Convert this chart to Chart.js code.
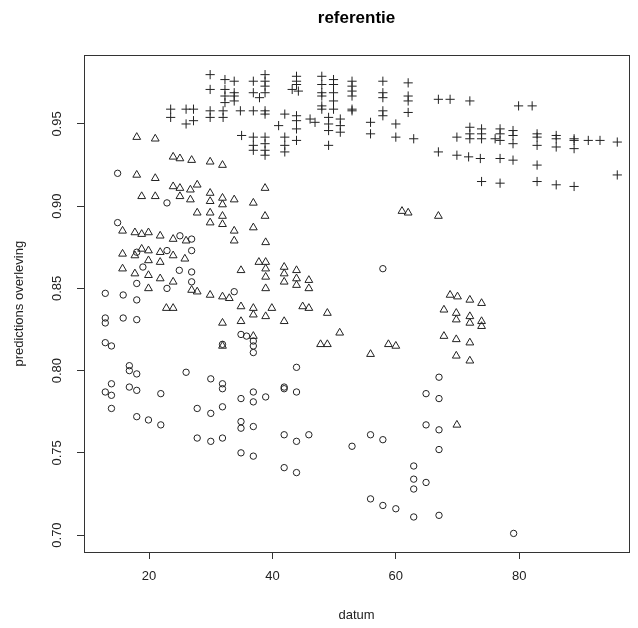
<!DOCTYPE html>
<html>
<head>
<meta charset="utf-8">
<title>referentie</title>
<script src="https://cdn.jsdelivr.net/npm/chart.js@4.4.1/dist/chart.umd.min.js"></script>
<style>
  html, body { margin: 0; padding: 0; background: #fff; }
  #wrap { width: 638px; height: 628px; }
</style>
</head>
<body>
<div id="wrap"><canvas id="chart" width="638" height="628"></canvas></div>
<script>
// values
const circleX = [14.9, 22.9, 14.9, 25.0, 26.9, 18.0, 22.9, 26.9, 19.0, 24.9, 26.9, 18.0, 26.9, 22.9, 12.9, 15.8, 18.0, 33.8,
  12.9, 12.9, 15.8, 18.0, 12.9, 13.9, 34.9, 35.8, 36.9, 36.9, 36.9, 31.9,
  16.8, 16.8, 18.0, 26.0, 30.0, 31.9, 13.9, 57.9, 43.9, 41.9, 67.0,
  12.9, 13.9, 16.8, 18.0, 21.9, 13.9, 18.0, 19.9, 21.9,
  31.9, 31.9, 27.8, 30.0, 34.9, 36.9, 36.9, 34.9, 34.9, 36.9, 27.8, 30.0, 31.9, 34.9, 36.9,
  38.9, 41.9, 43.9, 41.9, 43.9, 45.9, 41.9, 43.9, 52.9, 55.9, 57.9, 55.9, 57.9, 60.0,
  62.9, 62.9, 62.9, 62.9, 64.9, 64.9, 64.9, 67.0, 67.0, 67.0, 67.0, 79.1];
const circleY = [0.920, 0.902, 0.890, 0.882, 0.880, 0.872, 0.873, 0.873, 0.863, 0.861, 0.860, 0.853, 0.854, 0.850, 0.847, 0.846, 0.843, 0.848,
  0.832, 0.829, 0.832, 0.831, 0.817, 0.815, 0.822, 0.821, 0.818, 0.815, 0.811, 0.816,
  0.803, 0.800, 0.798, 0.799, 0.795, 0.792, 0.792, 0.862, 0.802, 0.790, 0.796,
  0.787, 0.785, 0.790, 0.788, 0.786, 0.777, 0.772, 0.770, 0.767,
  0.789, 0.778, 0.777, 0.774, 0.783, 0.787, 0.781, 0.769, 0.765, 0.766, 0.759, 0.757, 0.759, 0.750, 0.748,
  0.784, 0.789, 0.787, 0.761, 0.757, 0.761, 0.741, 0.738, 0.754, 0.761, 0.758, 0.722, 0.718, 0.716,
  0.742, 0.734, 0.728, 0.711, 0.786, 0.767, 0.732, 0.783, 0.764, 0.752, 0.712, 0.701];

const triangleX = [18.0, 21.0, 23.9, 25.0, 26.9, 29.9, 31.9,
  18.0, 21.0, 23.9, 25.0, 26.7, 27.8, 29.9, 29.9, 31.9, 31.9, 33.8, 36.9,
  18.8, 21.0, 25.0, 26.7, 27.8, 29.9, 31.9, 38.8, 38.8, 61.0, 62.0, 66.9,
  29.9, 31.9, 33.8, 33.8, 36.9,
  15.7, 17.7, 18.8, 19.9, 21.8, 23.9, 26.0,
  15.7, 17.7, 19.9, 21.8, 18.8, 19.9, 21.8, 23.9, 25.8,
  15.7, 17.7, 19.9, 21.8, 23.9, 19.9, 26.9, 27.8, 29.9, 31.9, 33.0, 34.9, 36.9, 22.8, 23.9,
  34.9, 37.8, 31.9, 34.9, 36.9, 36.9, 31.9,
  38.9, 38.9, 38.9, 38.9, 38.9, 41.9, 41.9, 41.9, 43.9, 43.9, 43.9, 45.9, 45.9,
  38.9, 39.9, 41.9, 44.9, 45.9, 48.9, 50.9, 47.8, 48.9, 55.9, 58.8, 60.0,
  68.8, 70.0, 72.0, 73.9, 67.8, 69.8, 69.8, 72.0, 72.0, 73.9, 73.9, 67.8, 69.8, 72.0, 69.8, 72.0, 69.9];
const triangleY = [0.942, 0.941, 0.930, 0.929, 0.928, 0.927, 0.925,
  0.919, 0.917, 0.912, 0.911, 0.910, 0.913, 0.908, 0.903, 0.905, 0.901, 0.904, 0.902,
  0.906, 0.906, 0.906, 0.904, 0.896, 0.896, 0.894, 0.911, 0.894, 0.897, 0.896, 0.894,
  0.890, 0.889, 0.885, 0.879, 0.887,
  0.885, 0.884, 0.883, 0.884, 0.882, 0.880, 0.879,
  0.871, 0.870, 0.873, 0.872, 0.874, 0.867, 0.866, 0.870, 0.868,
  0.862, 0.859, 0.858, 0.856, 0.854, 0.850, 0.849, 0.848, 0.846, 0.845, 0.844, 0.839, 0.838, 0.838, 0.838,
  0.861, 0.866, 0.829, 0.830, 0.834, 0.821, 0.815,
  0.878, 0.866, 0.862, 0.857, 0.850, 0.863, 0.859, 0.854, 0.861, 0.856, 0.852, 0.855, 0.850,
  0.833, 0.838, 0.830, 0.839, 0.838, 0.835, 0.823, 0.816, 0.816, 0.810, 0.816, 0.815,
  0.846, 0.845, 0.843, 0.841, 0.837, 0.835, 0.831, 0.833, 0.829, 0.830, 0.827, 0.821, 0.819, 0.817, 0.809, 0.806, 0.767];

const crossX = [29.9, 29.9, 32.3, 32.3, 32.3, 32.3, 33.8, 33.8, 33.8, 33.8,
  23.5, 23.5, 26.0, 26.0, 27.2, 27.2, 29.9, 29.9, 32.0, 32.0, 34.8, 35.0,
  36.9, 36.9, 36.9, 36.9, 36.9, 36.9,
  38.8, 38.8, 38.8, 38.8, 38.8, 38.8, 37.9, 38.8, 38.8, 38.8, 38.8,
  43.9, 43.9, 43.9, 43.2, 44.2, 42.0, 41.0, 43.9, 43.9, 43.9, 42.0, 42.0, 42.0, 43.9,
  46.1, 46.9, 48.0, 48.0, 48.0, 48.0, 48.0, 48.0, 49.9, 49.9, 49.9, 49.9, 49.9,
  49.1, 49.1, 49.1, 49.1, 51.0, 51.0, 51.0, 52.9, 52.9, 52.9, 52.9, 52.9, 52.9,
  55.9, 55.9, 57.9, 57.9, 57.9, 57.9, 57.9, 60.0, 60.0, 62.0, 62.0, 62.0, 62.0, 62.9,
  66.9, 68.8, 72.0, 79.9, 82.1, 69.9, 72.0, 72.0, 72.0, 73.9, 73.9, 73.9,
  76.9, 76.9, 76.9, 76.1, 79.0, 79.0, 79.0, 82.9, 82.9, 82.9, 86.0, 86.0, 86.0, 88.9, 88.9, 88.9,
  91.2, 93.1, 66.9, 69.9, 71.8, 73.7, 76.9, 79.0, 82.9,
  73.9, 76.9, 82.9, 86.0, 88.9, 95.9, 95.9];
const crossY = [0.980, 0.971, 0.977, 0.971, 0.967, 0.963, 0.976, 0.969, 0.967, 0.964,
  0.959, 0.954, 0.950, 0.959, 0.959, 0.952, 0.958, 0.954, 0.958, 0.954, 0.958, 0.943,
  0.976, 0.969, 0.958, 0.942, 0.937, 0.934,
  0.980, 0.976, 0.973, 0.969, 0.958, 0.956, 0.966, 0.942, 0.938, 0.934, 0.931,
  0.979, 0.976, 0.974, 0.971, 0.970, 0.956, 0.949, 0.955, 0.952, 0.947, 0.942, 0.937, 0.933, 0.940,
  0.953, 0.951, 0.979, 0.974, 0.969, 0.967, 0.961, 0.959, 0.977, 0.974, 0.969, 0.964, 0.959,
  0.954, 0.950, 0.946, 0.937, 0.953, 0.949, 0.945, 0.976, 0.973, 0.970, 0.967, 0.959, 0.958,
  0.951, 0.944, 0.976, 0.969, 0.966, 0.958, 0.955, 0.950, 0.942, 0.975, 0.967, 0.964, 0.957, 0.941,
  0.965, 0.965, 0.964, 0.961, 0.961, 0.942, 0.948, 0.944, 0.941, 0.947, 0.944, 0.941,
  0.947, 0.944, 0.940, 0.941, 0.946, 0.943, 0.938, 0.944, 0.942, 0.937, 0.943, 0.941, 0.936, 0.941, 0.940, 0.935,
  0.940, 0.940, 0.933, 0.931, 0.930, 0.929, 0.929, 0.928, 0.925,
  0.915, 0.914, 0.915, 0.913, 0.912, 0.939, 0.919];

const xTicks = [20, 40, 60, 80];
const yTicks = [0.70, 0.75, 0.80, 0.85, 0.90, 0.95];

const FONT = "'Liberation Sans', Arial, sans-serif";
const INK = "#222";

function toPoints(xs, ys) {
  return xs.map((x, i) => ({ x: x, y: ys[i] }));
}

// R style box around the plot region
const boxPlugin = {
  id: "box",
  afterDraw(chart) {
    const a = chart.chartArea;
    const ctx = chart.ctx;
    ctx.save();
    ctx.strokeStyle = "#333";
    ctx.lineWidth = 1;
    ctx.strokeRect(Math.round(a.left) + 0.5, Math.round(a.top) + 0.5,
      Math.round(a.right - a.left), Math.round(a.bottom - a.top));
    ctx.restore();
  },
};

function markerSet(label, xs, ys, style, radius) {
  return {
    label: label,
    data: toPoints(xs, ys),
    pointStyle: style,
    pointRadius: radius,
    pointBorderColor: INK,
    pointBackgroundColor: "rgba(0,0,0,0)",
    pointBorderWidth: 1,
    showLine: false,
  };
}

const ctx = document.getElementById("chart").getContext("2d");
new Chart(ctx, {
  type: "scatter",
  data: {
    datasets: [
      markerSet("circle", circleX, circleY, "circle", 3.2),
      markerSet("triangle", triangleX, triangleY, "triangle", 4.5),
      markerSet("cross", crossX, crossY, "cross", 4.6),
    ],
  },
  options: {
    responsive: false,
    animation: false,
    devicePixelRatio: 1,
    layout: { padding: { left: 0, right: 9, top: 0, bottom: 0 } },
    plugins: {
      legend: { display: false },
      tooltip: { enabled: false },
      title: {
        display: true,
        text: "referentie",
        fullSize: false,
        color: "#000",
        font: { family: FONT, size: 17, weight: "bold" },
        padding: { top: 8, bottom: 27 },
      },
    },
    scales: {
      x: {
        type: "linear",
        min: 9.45,
        max: 97.8,
        afterBuildTicks: (scale) => { scale.ticks = xTicks.map((v) => ({ value: v })); },
        afterFit: (scale) => { scale.height = 76; },
        grid: { display: true, drawOnChartArea: false, drawTicks: true, tickLength: 7, color: "#333" },
        border: { display: true, color: "#333" },
        ticks: { color: INK, font: { family: FONT, size: 13 }, padding: 10, maxRotation: 0 },
        title: {
          display: true, text: "datum", color: INK,
          font: { family: FONT, size: 13 }, padding: { top: 0, bottom: 5 },
        },
      },
      y: {
        type: "linear",
        min: 0.6897,
        max: 0.9917,
        afterBuildTicks: (scale) => { scale.ticks = yTicks.map((v) => ({ value: v })); },
        afterFit: (scale) => { scale.width = 84; },
        grid: { display: true, drawOnChartArea: false, drawTicks: true, tickLength: 7, color: "#333" },
        border: { display: true, color: "#333" },
        ticks: {
          color: INK, font: { family: FONT, size: 13 }, padding: 7,
          minRotation: 90, maxRotation: 90, crossAlign: "center",
          callback: (v) => Number(v).toFixed(2),
        },
        title: {
          display: true, text: "predictions overleving", color: INK,
          font: { family: FONT, size: 13 }, padding: { top: 12, bottom: 0 },
        },
      },
    },
  },
  plugins: [boxPlugin],
});
</script>
</body>
</html>
